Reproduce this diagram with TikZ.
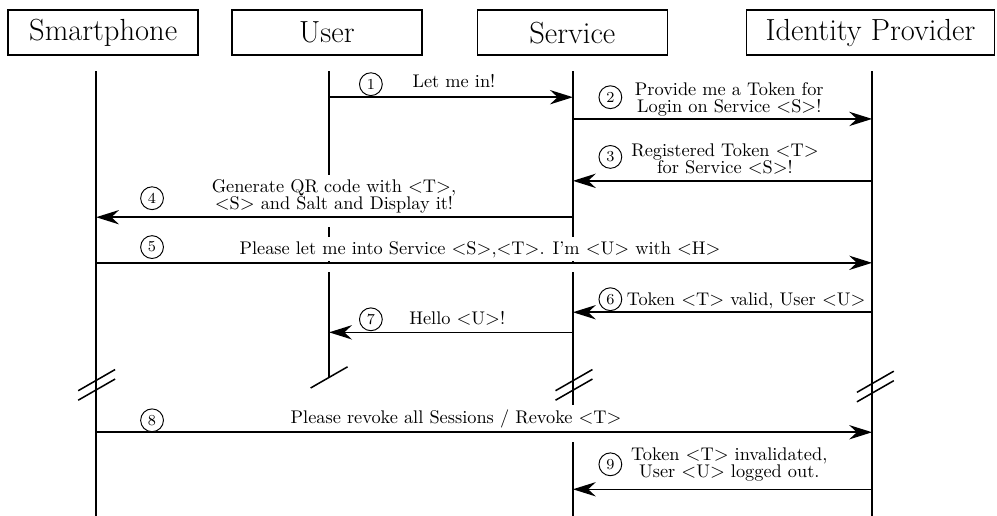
\documentclass[tikz,border=0pt]{standalone}
\usepackage{tikz}
\usetikzlibrary{arrows.meta, positioning, calc}
\newcommand{\tok}[1]{$<$#1$>$}
\tikzset{
  %% ---- boxes ----
  actor/.style   = {rectangle, draw=black, line width=0.8pt, fill=white,
                    minimum width=#1, minimum height=0.83cm,
                    font=\fontsize{16}{19}\selectfont},
  actor/.default = 3.5cm,
  stepno/.style  = {circle, draw=black, line width=0.5pt, fill=white,
                    minimum size=0.42cm, inner sep=0pt, font=\footnotesize},
  msgtext/.style = {fill=white, inner sep=2pt, align=center,
                    font=\fontsize{9.6}{8.9}\selectfont},
  %% ---- lines ----
  lifeline/.style  = {line width=0.8pt},
  msg/.style       = {-{Stealth[length=12pt, width=7.5pt, inset=4pt]},
                      line width=0.8pt,
                      preaction={draw=white, -, line width=5pt,
                                 shorten <=1pt, shorten >=1pt,
                                 transform canvas={yshift=-2.5pt}}},
  breakmark/.style = {line width=0.8pt},
}

\begin{document}
\begin{tikzpicture}
  \useasboundingbox (0,0) rectangle (18.36,-9.50);

  %% Actors
  \node[actor]       (phone)   at (1.90,-0.60)  {Smartphone};
  \node[actor]       (user)    at (6.02,-0.60)  {User};
  \node[actor]       (service) at (10.54,-0.60) {Service};
  \node[actor=4.57cm] (idp)    at (16.03,-0.60) {Identity Provider};

  %% Lifelines
  \coordinate (phoneL)   at (1.77,-1.31);
  \coordinate (userL)    at (6.06,-1.31);
  \coordinate (serviceL) at (10.55,-1.31);
  \coordinate (idpL)     at (16.06,-1.31);
  \coordinate (bottom)   at (0,-9.50);
  \coordinate (userEnd)  at (6.06,-6.95);
  \draw[lifeline] (phoneL) -- (phoneL |- bottom);
  \draw[lifeline] (userL) -- (userEnd);
  \draw[lifeline] (serviceL) -- (serviceL |- bottom);
  \draw[lifeline] (idpL) -- (idpL |- bottom);

  %% Message texts
  \node[msgtext, anchor=base] (l1) at (8.36,-1.62) {Let me in!};
  \node[msgtext] (l2) at (13.43,-1.83)
    {Provide me a Token for\\Login on Service \tok{S}!};
  \node[msgtext] (l3) at (13.35,-2.93)
    {Registered Token \tok{T}\\for Service \tok{S}!};
  \node[msgtext] (l4) at (6.15,-3.61)
    {Generate QR code with \tok{T},\\\tok{S} and Salt and Display it!};
  \node[msgtext, anchor=base] (l5) at (8.84,-4.68)
    {Please let me into Service \tok{S},\tok{T}. I'm \tok{U} with \tok{H}};
  \node[msgtext, anchor=base] (l6) at (13.74,-5.62)
    {Token \tok{T} valid, User \tok{U}};
  \node[msgtext, anchor=base] (l7) at (8.42,-5.97) {Hello \tok{U}!};
  \node[msgtext, anchor=base] (l8) at (8.40,-7.79)
    {Please revoke all Sessions / Revoke \tok{T}};
  \node[msgtext] (l9) at (13.43,-8.55)
    {Token \tok{T} invalidated,\\User \tok{U} logged out.};

  %% Messages
  \coordinate (m1) at (0,-1.79);
  \coordinate (m2) at (0,-2.19);
  \coordinate (m3) at (0,-3.33);
  \coordinate (m4) at (0,-4.00);
  \coordinate (m5) at (0,-4.84);
  \coordinate (m6) at (0,-5.75);
  \coordinate (m7) at (0,-6.12);
  \coordinate (m8) at (0,-7.96);
  \coordinate (m9) at (0,-9.01);
  \draw[msg] (userL |- m1) -- (serviceL |- m1);
  \draw[msg] (serviceL |- m2) -- (idpL |- m2);
  \draw[msg] (idpL |- m3) -- (serviceL |- m3);
  \draw[msg] (serviceL |- m4) -- (phoneL |- m4);
  \draw[msg] (phoneL |- m5) -- (idpL |- m5);
  \draw[msg] (idpL |- m6) -- (serviceL |- m6);
  \draw[msg] (serviceL |- m7) -- (userL |- m7);
  \draw[msg] (phoneL |- m8) -- (idpL |- m8);
  \draw[msg] (idpL |- m9) -- (serviceL |- m9);

  %% Step numbers
  \node[stepno] (c1) at (6.83,-1.55)  {1};
  \node[stepno] (c2) at (11.24,-1.79) {2};
  \node[stepno] (c3) at (11.24,-2.89) {3};
  \node[stepno] (c4) at (2.80,-3.65)  {4};
  \node[stepno] (c5) at (2.80,-4.55)  {5};
  \node[stepno] (c6) at (11.24,-5.51) {6};
  \node[stepno] (c7) at (6.83,-5.88)  {7};
  \node[stepno] (c8) at (2.80,-7.74)  {8};
  \node[stepno] (c9) at (11.24,-8.55) {9};

  %% Breaks
  \draw[breakmark] (userEnd) ++(-0.34,-0.195) -- ++(0.68,0.39);
  \foreach \x/\y in {1.78/-7.00, 10.57/-7.00, 16.12/-7.03} {
    \draw[breakmark] (\x,\y) ++(-0.34,-0.195) -- ++(0.68,0.39);
    \draw[breakmark] (\x,\y-0.175) ++(-0.34,-0.195) -- ++(0.68,0.39);
  }

\end{tikzpicture}
\end{document}
